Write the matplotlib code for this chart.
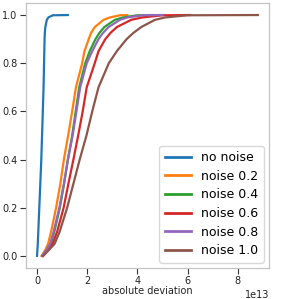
import numpy as np
import matplotlib.pyplot as plt

# empirical CDF levels and the deviation (in units of 1e13) at each level
levels = [0, 0.025, 0.05, 0.1, 0.2, 0.3, 0.4, 0.5, 0.6, 0.7, 0.8, 0.85, 0.9, 0.925,
          0.95, 0.98, 0.99, 0.999, 1.0]

no_noise = [0.0, 0.015, 0.03, 0.05, 0.09, 0.13, 0.17, 0.2, 0.23, 0.26, 0.28, 0.29, 0.3, 0.31,
            0.33, 0.39, 0.45, 0.63, 1.23]
noise_02 = [0.18, 0.33, 0.44, 0.56, 0.76, 0.93, 1.07, 1.24, 1.4, 1.55, 1.8, 1.89, 2.06, 2.15,
            2.3, 2.65, 2.9, 3.3, 3.6]
noise_04 = [0.22, 0.4, 0.55, 0.69, 0.91, 1.08, 1.23, 1.4, 1.54, 1.68, 1.92, 2.1, 2.33, 2.48,
            2.68, 3.1, 3.43, 4.0, 4.6]
noise_06 = [0.22, 0.42, 0.62, 0.8, 1.06, 1.25, 1.45, 1.64, 1.82, 1.98, 2.3, 2.45, 2.72, 2.92,
            3.18, 3.75, 4.2, 5.0, 6.1]
noise_08 = [0.2, 0.38, 0.52, 0.66, 0.89, 1.07, 1.23, 1.42, 1.57, 1.72, 1.98, 2.2, 2.45, 2.62,
            2.85, 3.3, 3.6, 4.2, 5.0]
noise_10 = [0.25, 0.48, 0.7, 0.9, 1.2, 1.45, 1.7, 1.97, 2.2, 2.45, 2.86, 3.18, 3.57, 3.83,
            4.15, 4.7, 5.1, 6.0, 8.8]

series = [no_noise, noise_02, noise_04, noise_06, noise_08, noise_10]
labels = ['no noise', 'noise 0.2', 'noise 0.4', 'noise 0.6', 'noise 0.8', 'noise 1.0']

fig, ax = plt.subplots(figsize=(2.81, 2.99), dpi=100)
for vals, lab in zip(series, labels):
    ax.plot(np.array(vals) * 1e13, levels, lw=1.6, label=lab)

ax.set_xticks([0, 2e13, 4e13, 6e13, 8e13])
ax.set_yticks([0, 0.2, 0.4, 0.6, 0.8, 1.0])
ax.tick_params(labelsize=7, length=4, width=0.8, color='#333333', labelcolor='#222222', pad=2)
ax.xaxis.get_offset_text().set_fontsize(7)
ax.set_xlabel('absolute deviation', fontsize=7, labelpad=0, color='#222222')
for s in ax.spines.values():
    s.set_color('#c4c4c4')
    s.set_linewidth(0.9)

leg = ax.legend(loc='lower right', fontsize=9, borderaxespad=0.4, handlelength=2.1,
                labelspacing=0.45, borderpad=0.45)
leg.get_frame().set_edgecolor('#d0d0d0')
for h in leg.get_lines():
    h.set_linewidth(2.0)

fig.subplots_adjust(left=0.0925, right=0.957, bottom=0.104, top=0.99)
fig.savefig('out.png', dpi=100)
